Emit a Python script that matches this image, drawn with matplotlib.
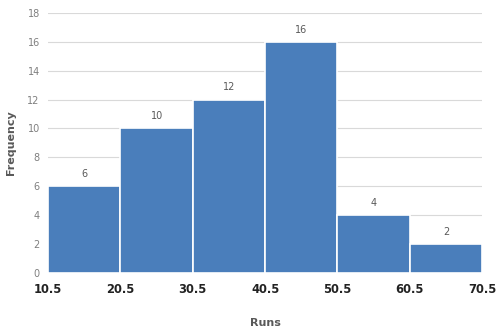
import matplotlib.pyplot as plt

edges = [10.5, 20.5, 30.5, 40.5, 50.5, 60.5, 70.5]
freq = [6, 10, 12, 16, 4, 2]
y_ticks = [0, 2, 4, 6, 8, 10, 12, 14, 16, 18]

fig = plt.figure(figsize=(4.96, 3.30), dpi=100)
ax = fig.add_axes([0.097, 0.173, 0.875, 0.788])

lefts = edges[:-1]
widths = [edges[i + 1] - edges[i] for i in range(len(freq))]
bars = ax.bar(lefts, freq, width=widths, align='edge', color='#4A7EBB',
              edgecolor='white', linewidth=1.2, zorder=2)

for x, w, f in zip(lefts, widths, freq):
    ax.text(x + w / 2, f + 0.5, str(f), ha='center', va='bottom',
            fontsize=7, color='#595959')

ax.set_xlim(edges[0], edges[-1])
ax.set_ylim(0, 18)
ax.set_xticks(edges)
ax.set_xticklabels([str(e) for e in edges], fontsize=8.3, fontweight='bold', color='#222222')
ax.set_yticks(y_ticks)
ax.set_yticklabels([str(t) for t in y_ticks], fontsize=7, color='#7f7f7f')
ax.tick_params(length=0, pad=6)
ax.tick_params(axis='x', pad=7)

ax.grid(axis='y', color='#d9d9d9', linewidth=0.8, zorder=0)
for s in ax.spines.values():
    s.set_visible(False)

ax.set_xlabel('Runs', fontsize=8, fontweight='bold', color='#595959', labelpad=16)
ax.set_ylabel('Frequency', fontsize=8, fontweight='bold', color='#595959', labelpad=8)

plt.savefig('out.png')
